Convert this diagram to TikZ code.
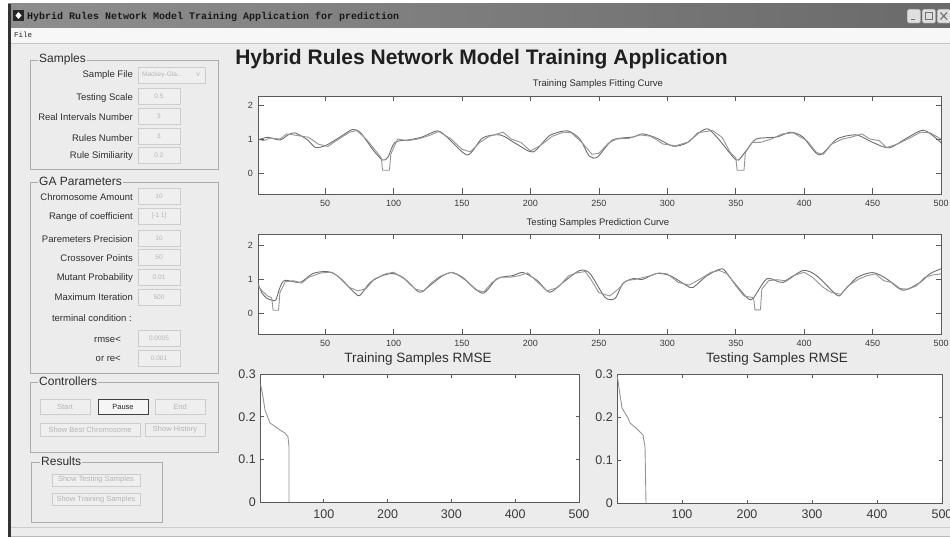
\documentclass[tikz,border=0pt]{standalone}
\usepackage{fontspec}
\setmainfont{Liberation Sans}
\newfontfamily\winfont{Liberation Mono}
\newcommand\sz[1]{\fontsize{#1}{#1}\selectfont}

\definecolor{bgcol}{HTML}{ECECEC}
\definecolor{panelline}{HTML}{ABABAB}
\definecolor{labeltext}{HTML}{2E2E2E}
\definecolor{fieldline}{HTML}{CDCDCD}
\definecolor{fieldfill}{HTML}{EFEFEF}
\definecolor{disabledtext}{HTML}{B5B5B5}
\definecolor{axisline}{HTML}{5A5A5A}
\definecolor{ticktext}{HTML}{3A3A3A}
\definecolor{curveone}{HTML}{6E6E6E}
\definecolor{curvetwo}{HTML}{959595}
\definecolor{barleft}{HTML}{8E8E8E}
\definecolor{barright}{HTML}{6A6A6A}

\begin{document}
\begin{tikzpicture}[x=1pt,y=-1pt,
  lbl/.style={anchor=east, inner sep=0pt, text=labeltext, font=\sz{9.5}},
  fieldbox/.style={draw=fieldline, fill=fieldfill, minimum width=42pt, minimum height=16pt, inner sep=0pt, text=disabledtext, font=\sz{6.5}},
  paneltitle/.style={anchor=west, fill=bgcol, inner sep=1pt, text=labeltext, font=\sz{12}},
  panelframe/.style={draw=panelline, line width=0.8pt},
  btn/.style={draw=fieldline, fill=fieldfill, inner sep=0pt, minimum height=15pt, font=\sz{7.5}, text=disabledtext},
  capbtn/.style={draw=black!45, fill=gray!25, minimum width=13.5pt, minimum height=14pt, inner sep=0pt, anchor=north west, rounded corners=1.5pt},
  ticklbl/.style={font=\sz{9}, text=ticktext, inner sep=0pt},
  bigtick/.style={font=\sz{12.5}, text=ticktext, inner sep=0pt},
  axesbox/.style={draw=axisline, fill=white, line width=0.8pt},
  tickline/.style={draw=axisline, line width=0.7pt},
  curveA/.style={draw=curveone, line width=0.9pt, line join=round},
  curveB/.style={draw=curvetwo, line width=0.9pt, line join=round},
  plottitle/.style={font=\sz{9.5}, text=labeltext, inner sep=0pt},
  rmsetitle/.style={font=\sz{13.5}, text=labeltext, inner sep=0pt}]
\useasboundingbox (0,0) rectangle (950,537);
\fill[white] (0,0) rectangle (950,537);

% ---------- window frame ----------
\fill[bgcol] (8,28) rectangle (950,537);
\shade[left color=barleft, right color=barright] (8,4) rectangle (950,28);
\fill[black!80] (8,4) rectangle (11,537);
% window icon
\fill[black!85] (13,10) rectangle (24,21);
\fill[white] (15.5,15.5) -- (18.5,12) -- (21.5,15.5) -- (18.5,19) -- cycle;
\node[anchor=west, inner sep=0pt, font=\winfont\bfseries\sz{10}, text=black!90] (wintitle) at (27,17)
  {Hybrid Rules Network Model Training Application for prediction};
% caption buttons
\node[capbtn] (bmin) at (907,9) {};
\node[capbtn] (bmax) at (922,9) {};
\node[capbtn] (bcls) at (937,9) {};
\draw[black!55, line width=1.2pt] (910.5,19.5) -- (915,19.5);
\draw[black!55, line width=1pt] (925.5,12.5) rectangle (932,19.5);
\draw[black!55, line width=1.2pt] (940.5,12.5) -- (947,19.5) (940.5,19.5) -- (947,12.5);
% menu bar
\fill[gray!6] (11,28) rectangle (950,43);
\node[anchor=west, inner sep=0pt, font=\winfont\sz{7.5}, text=black!85] (menufile) at (14,35) {File};
\draw[gray!45] (11,43.5) -- (950,43.5);
\draw[gray!40] (11,527) -- (950,527);
\fill[gray!55] (11,535.5) rectangle (950,537);

% ---------- Samples panel ----------
\draw[panelframe] (30,60) rectangle (218,169);
\node[paneltitle] (tsamples) at (38,59) {Samples};
\node[lbl] (lsfile) at (133,75) {Sample File};
\node[fieldbox, minimum width=67pt, anchor=west] (fsfile) at (138,75) {};
\node[anchor=west, inner sep=0pt, font=\sz{6.5}, text=disabledtext] (vsfile) at (142,75) {Mackey-Gla...};
\node[anchor=center, inner sep=0pt, font=\sz{7}, text=disabledtext] (arsfile) at (198,75) {v};
\node[lbl] (lscale) at (133,98) {Testing Scale};
\node[fieldbox] (fscale) at (159,96) {0.5};
\node[lbl] (lreal) at (133,117) {Real Intervals Number};
\node[fieldbox] (freal) at (159,116) {3};
\node[lbl] (lrules) at (133,138) {Rules Number};
\node[fieldbox] (frules) at (159,136) {3};
\node[lbl] (lsim) at (133,156) {Rule Similiarity};
\node[fieldbox] (fsim) at (159,155) {0.2};

% ---------- GA Parameters panel ----------
\draw[panelframe] (30,182) rectangle (218,373);
\node[paneltitle] (tga) at (38,181) {GA Parameters};
\node[lbl] (lchrom) at (133,197) {Chromosome Amount};
\node[fieldbox] (fchrom) at (159,196) {10};
\node[lbl] (lrange) at (133,217) {Range of coefficient};
\node[fieldbox] (frange) at (159,216) {[-1 1]};
\node[lbl] (lprec) at (133,239) {Paremeters Precision};
\node[fieldbox] (fprec) at (159,238) {10};
\node[lbl] (lcross) at (133,258) {Crossover Points};
\node[fieldbox] (fcross) at (159,257) {50};
\node[lbl] (lmut) at (133,278) {Mutant Probability};
\node[fieldbox] (fmut) at (159,277) {0.01};
\node[lbl] (lmax) at (133,297) {Maximum Iteration};
\node[fieldbox] (fmax) at (159,297) {500};
\node[lbl] (lterm) at (132,318) {terminal condition :};
\node[lbl] (lrmse) at (121,340) {rmse<};
\node[fieldbox] (frmse) at (159,338) {0.0005};
\node[lbl] (lre) at (121,359) {or re<};
\node[fieldbox] (fre) at (159,358) {0.001};

% ---------- Controllers panel ----------
\draw[panelframe] (30,382) rectangle (218,452);
\node[paneltitle] (tctrl) at (38,381) {Controllers};
\node[btn, minimum width=50pt] (bstart) at (65,407) {Start};
\node[btn, minimum width=50pt, draw=black!75, line width=0.9pt, fill=gray!8, text=black!85] (bpause) at (123,407) {Pause};
\node[btn, minimum width=50pt] (bend) at (180,407) {End};
\node[btn, minimum width=100pt, minimum height=13pt] (bbest) at (90,429.5) {Show Best Chromosome};
\node[btn, minimum width=60pt, minimum height=13pt] (bhist) at (175,429.5) {Show History};

% ---------- Results panel ----------
\draw[panelframe] (31,462) rectangle (162,522);
\node[paneltitle] (tres) at (40,461) {Results};
\node[btn, minimum width=88pt, minimum height=12pt] (btest) at (96,480) {Show Testing Samples};
\node[btn, minimum width=88pt, minimum height=12pt] (btrain) at (96,499.5) {Show Training Samples};

% ---------- heading ----------
\node[anchor=base, inner sep=0pt, font=\bfseries\sz{21}, text=black!88] (heading) at (481.5,65)
  {Hybrid Rules Network Model Training Application};

% ---------- plot 1: training fitting curve ----------
\node[plottitle] (pt1) at (598,84) {Training Samples Fitting Curve};
\draw[axesbox] (258,96) rectangle (941,194);
\begin{scope}
\clip (258,96) rectangle (941,194);
\begin{scope}[shift={(256.631,173)}, x=1.369pt, y=34pt]
\draw[curveA] plot[smooth, tension=0.45] coordinates {
(1,0.97) (8,1.05) (17,0.97) (23,1.12) (28,1.18) (37,0.98) (43,0.75) (51,0.82) (61,1.06) (70,1.28)
(76,1.18) (85,0.68) (92,0.38) (96,0.47) (101,0.9) (112,0.98) (121,1.06) (132,1.24) (139,1.06)
(154,0.53) (165,1.03) (178,1.12) (190,0.85) (202,0.62) (214,1.1) (227,1.24) (236,1.0) (243,0.5)
(249,0.47) (260,0.97) (275,1.06) (282,1.15) (292,1.03) (304,0.79) (314,0.88) (324,1.21) (330,1.29)
(338,0.97) (348,0.47) (352,0.38) (358,0.68) (365,1.0) (380,1.06) (390,1.2) (399,1.06) (411,0.53)
(424,1.0) (438,1.12) (450,0.9) (462,0.74) (475,1.03) (487,1.26) (497,1.0) (500,0.88)};
\draw[curveB] plot coordinates {
(1,1.0) (5,0.95) (10,1.03) (17,1.0) (22,1.15) (30,1.1) (38,1.05) (45,0.85) (52,0.78) (60,1.0)
(68,1.2) (73,1.25) (80,1.0) (88,0.6) (91,0.45) (92,0.08) (97,0.08) (98,0.55) (103,1.0) (110,0.95)
(118,1.0) (126,1.1) (133,1.22) (142,1.0) (150,0.7) (156,0.62) (163,0.9) (170,1.08) (180,1.2)
(186,1.0) (193,0.9) (200,0.65) (207,0.8) (216,1.08) (224,1.2) (230,1.18) (238,0.88) (245,0.55)
(250,0.58) (257,0.88) (263,1.0) (272,1.02) (280,1.12) (288,1.08) (297,0.85) (306,0.8) (316,0.92)
(322,1.18) (333,1.25) (340,1.05) (346,0.6) (350,0.45) (351,0.08) (356,0.08) (357,0.6) (362,0.9)
(368,0.9) (376,1.0) (384,1.15) (392,1.18) (402,0.95) (409,0.6) (414,0.55) (420,0.85) (428,1.0)
(434,1.05) (442,1.15) (448,1.0) (455,0.95) (460,0.75) (468,0.85) (478,1.05) (485,1.2) (492,1.18)
(500,1.0)};
\end{scope}
\end{scope}
\foreach \k in {50,100,...,450}{
  \pgfmathsetmacro\tx{256.631+1.369*\k}
  \draw[tickline] (\tx,194) -- (\tx,188.5) (\tx,96) -- (\tx,101.5);
  \node[ticklbl] (xa\k) at (\tx,203) {\k};
}
\node[ticklbl] (xa500) at (941,203) {500};
\foreach \v/\yy in {2/105,1/139,0/173}{
  \draw[tickline] (258,\yy) -- (263.5,\yy) (941,\yy) -- (935.5,\yy);
  \node[ticklbl, anchor=east] (ya\v) at (253,\yy) {\v};
}

% ---------- plot 2: testing prediction curve ----------
\node[plottitle] (pt2) at (598,223) {Testing Samples Prediction Curve};
\draw[axesbox] (258,234) rectangle (941,334);
\begin{scope}
\clip (258,234) rectangle (941,334);
\begin{scope}[shift={(256.631,313)}, x=1.369pt, y=34pt]
\draw[curveA] plot[smooth, tension=0.45] coordinates {
(1,0.87) (4,0.58) (7.6,0.43) (11,0.38) (14,0.38) (17,0.75) (20.7,0.96) (31.7,0.9) (41,1.16) (51,1.22)
(58.7,1.1) (72,0.58) (75.5,0.52) (83,0.9) (92,1.1) (99.6,1.16) (107,1.04) (119,0.61) (126.6,0.81)
(136,1.1) (143,1.19) (150.7,1.04) (165,0.58) (175.6,1.01) (187,1.1) (194.6,1.19) (204.8,0.96)
(214,0.61) (223.8,0.9) (236,1.25) (243.5,1.16) (254.5,0.46) (261.8,0.43) (267.6,0.87) (275,1.01)
(282,0.99) (292,1.16) (302,1.1) (314,0.81) (318.7,0.75) (329,1.1) (340,1.3) (345.8,1.04) (358,0.46)
(362.6,0.43) (372.8,1.01) (384.5,0.9) (399,1.25) (409,1.1) (424,0.52) (428,0.61) (438.5,1.04)
(450,1.19) (460,1.01) (472,0.67) (484.6,0.9) (492,1.16) (500,1.3)};
\draw[curveB] plot coordinates {
(1,0.8) (4,0.65) (8,0.5) (11,0.45) (12,0.08) (16,0.08) (17,0.6) (21,0.92) (27,0.95) (33,0.88)
(38,1.05) (47,1.18) (55,1.2) (62,1.0) (68,0.75) (74,0.65) (80,0.72) (86,1.0) (94,1.15) (100,1.2)
(104,1.1) (110,0.95) (116,0.7) (122,0.65) (128,0.9) (134,1.08) (142,1.2) (147,1.12) (153,0.95)
(160,0.68) (166,0.62) (172,0.9) (178,1.05) (185,1.05) (192,1.1) (198,1.18) (206,0.88) (212,0.65)
(220,0.75) (228,1.1) (234,1.18) (240,1.22) (244,1.0) (250,0.6) (258,0.5) (264,0.7) (270,0.95)
(278,1.0) (286,1.08) (294,1.18) (300,1.15) (308,0.9) (316,0.82) (324,1.0) (332,1.2) (338,1.25)
(344,1.15) (350,0.8) (356,0.5) (363,0.45) (364,0.09) (368,0.09) (369,0.7) (374,0.95) (380,0.98)
(386,0.95) (392,1.1) (400,1.2) (406,1.05) (414,0.75) (420,0.6) (427,0.55) (432,0.8) (440,1.0)
(446,1.1) (452,1.15) (458,0.95) (464,0.9) (470,0.72) (476,0.7) (482,0.8) (488,1.05) (494,1.12)
(500,1.15)};
\end{scope}
\end{scope}
\foreach \k in {50,100,...,450}{
  \pgfmathsetmacro\tx{256.631+1.369*\k}
  \draw[tickline] (\tx,334) -- (\tx,328.5) (\tx,234) -- (\tx,239.5);
  \node[ticklbl] (xb\k) at (\tx,343) {\k};
}
\node[ticklbl] (xb500) at (941,343) {500};
\foreach \v/\yy in {2/245,1/279,0/313}{
  \draw[tickline] (258,\yy) -- (263.5,\yy) (941,\yy) -- (935.5,\yy);
  \node[ticklbl, anchor=east] (yb\v) at (253,\yy) {\v};
}

% ---------- plot 3: training RMSE ----------
\node[rmsetitle] (pt3) at (418,359) {Training Samples RMSE};
\draw[axesbox] (260,374) rectangle (579,502);
\draw[curvetwo, line width=0.9pt, line join=round]
  (260.7,385) -- (263,397) -- (265,410) -- (268,418) -- (270,423) -- (273,425) -- (280,430)
  -- (285,433) -- (288,437) -- (289,447) -- (289,502);
\foreach \k in {100,200,300,400}{
  \pgfmathsetmacro\tx{260+0.638*\k}
  \draw[tickline] (\tx,502) -- (\tx,498.5) (\tx,374) -- (\tx,377.5);
  \node[bigtick] (xc\k) at (\tx,514) {\k};
}
\node[bigtick] (xc500) at (579,514) {500};
\foreach \v/\yy in {0.3/374,0.2/416.7,0.1/459.3,0/502}{
  \draw[tickline] (260,\yy) -- (263.5,\yy) (579,\yy) -- (575.5,\yy);
  \node[bigtick, anchor=east] (yc\v) at (256,\yy) {\v};
}

% ---------- plot 4: testing RMSE ----------
\node[rmsetitle] (pt4) at (777,359) {Testing Samples RMSE};
\draw[axesbox] (617,374) rectangle (942,503);
\draw[curvetwo, line width=0.9pt, line join=round]
  (617.5,377) -- (620,395) -- (622,408) -- (625,413) -- (628,418) -- (630,423) -- (636,428)
  -- (643,435) -- (645,447) -- (646,503);
\foreach \k in {100,200,300,400}{
  \pgfmathsetmacro\tx{617+0.65*\k}
  \draw[tickline] (\tx,503) -- (\tx,499.5) (\tx,374) -- (\tx,377.5);
  \node[bigtick] (xd\k) at (\tx,514) {\k};
}
\node[bigtick] (xd500) at (942,514) {500};
\foreach \v/\yy in {0.3/374,0.2/417,0.1/460,0/503}{
  \draw[tickline] (617,\yy) -- (620.5,\yy) (942,\yy) -- (938.5,\yy);
  \node[bigtick, anchor=east] (yd\v) at (613,\yy) {\v};
}
\end{tikzpicture}
\end{document}
